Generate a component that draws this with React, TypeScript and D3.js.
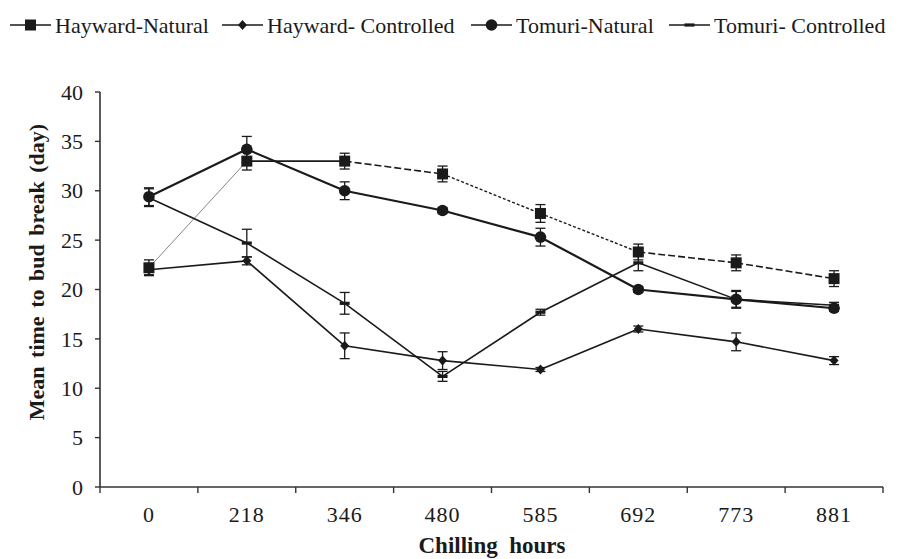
import React from 'react';
import * as d3 from 'd3';

// Chilling hours (categories on the x axis)
const hours = ['0', '218', '346', '480', '585', '692', '773', '881'];

// Mean time to bud break (day) for each series
const haywardNatural = [22.2, 33.0, 33.0, 31.7, 27.7, 23.8, 22.7, 21.1];
const haywardControlled = [22.0, 22.9, 14.3, 12.8, 11.9, 16.0, 14.7, 12.8];
const tomuriNatural = [29.4, 34.2, 30.0, 28.0, 25.3, 20.0, 19.0, 18.1];
const tomuriControlled = [29.3, 24.7, 18.6, 11.2, 17.7, 22.7, 19.0, 18.4];

// Error bar half-widths
const haywardNaturalErr = [0.8, 0.9, 0.8, 0.8, 0.9, 0.8, 0.8, 0.8];
const haywardControlledErr = [0.5, 0.4, 1.3, 0.9, 0.2, 0.3, 0.9, 0.4];
const tomuriNaturalErr = [0.9, 1.3, 0.9, 0.3, 0.9, 0.3, 0.9, 0.3];
const tomuriControlledErr = [0.9, 1.4, 1.1, 0.5, 0.3, 0.8, 0.8, 0.3];

const yTicks = [0, 5, 10, 15, 20, 25, 30, 35, 40];

const FONT = '"Liberation Serif", "Times New Roman", serif';
const INK = '#1a1a1a';

type Series = {
  name: string;
  values: number[];
  err: number[];
  marker: 'square' | 'diamond' | 'circle' | 'dash';
  width: number;
  // per segment style (null = default solid)
  segDash?: (string | null)[];
  segWidth?: number[];
  segColor?: string[];
};

const series: Series[] = [
  {
    name: 'Hayward-Natural',
    values: haywardNatural,
    err: haywardNaturalErr,
    marker: 'square',
    width: 1.6,
    segDash: [null, null, '7,3', '3,2', '3,2', '7,3', '7,3'],
    segWidth: [0.9, 1.8, 1.6, 1.4, 1.4, 1.6, 1.6],
    segColor: ['#777', INK, INK, INK, INK, INK, INK],
  },
  { name: 'Hayward- Controlled', values: haywardControlled, err: haywardControlledErr, marker: 'diamond', width: 1.6 },
  { name: 'Tomuri-Natural', values: tomuriNatural, err: tomuriNaturalErr, marker: 'circle', width: 2.2 },
  { name: 'Tomuri- Controlled', values: tomuriControlled, err: tomuriControlledErr, marker: 'dash', width: 1.6 },
];

const legendX = [10, 222, 471, 669];

const W = 899;
const H = 559;
const x = d3.scaleBand<string>().domain(hours).range([100, 883]).padding(0);
const y = d3.scaleLinear().domain([0, 40]).range([487, 92]);

function Marker({ kind, cx, cy }: { kind: Series['marker']; cx: number; cy: number }) {
  if (kind === 'square') return <rect x={cx - 5.5} y={cy - 5.5} width={11} height={11} fill={INK} />;
  if (kind === 'circle') return <circle cx={cx} cy={cy} r={5.8} fill={INK} />;
  if (kind === 'diamond') {
    const p = d3.path();
    p.moveTo(cx, cy - 5);
    p.lineTo(cx + 4.5, cy);
    p.lineTo(cx, cy + 5);
    p.lineTo(cx - 4.5, cy);
    p.closePath();
    return <path d={p.toString()} fill={INK} />;
  }
  return <rect x={cx - 5} y={cy - 1.6} width={10} height={3.2} fill={INK} />;
}

export default function App() {
  const cx = (i: number) => (x(hours[i]) as number) + x.bandwidth() / 2;
  const line = d3.line<[number, number]>();
  const boundaries = hours.map((h) => x(h) as number).concat([x.range()[1]]);

  return (
    <svg width={W} height={H} style={{ display: 'block', position: 'absolute', left: 0, top: 0, background: '#fff' }}>
      {/* legend */}
      {series.map((s, i) => (
        <g key={s.name} transform={`translate(${legendX[i]},25)`}>
          <line x1={0} x2={41} y1={0} y2={0} stroke={INK} strokeWidth={1.6} />
          <Marker kind={s.marker} cx={20.5} cy={0} />
          <text x={45} y={7.5} fontFamily={FONT} fontSize={22} fill={INK}>
            {s.name}
          </text>
        </g>
      ))}

      {/* axes */}
      <line x1={100} x2={100} y1={y(40)} y2={y(0)} stroke="#333" strokeWidth={1.6} />
      <line x1={100} x2={883} y1={y(0)} y2={y(0)} stroke="#333" strokeWidth={1.6} />
      {yTicks.map((t) => (
        <g key={t}>
          <line x1={95} x2={100} y1={y(t)} y2={y(t)} stroke="#333" strokeWidth={1.4} />
          <text x={83} y={y(t)} dy="0.35em" textAnchor="end" fontFamily={FONT} fontSize={22} fill={INK}>
            {t}
          </text>
        </g>
      ))}
      {boundaries.map((b, i) => (
        <line key={i} x1={b} x2={b} y1={y(0)} y2={y(0) + 6} stroke="#333" strokeWidth={1.4} />
      ))}
      {hours.map((h, i) => (
        <text key={h} x={cx(i)} y={522} textAnchor="middle" fontFamily={FONT} fontSize={22} letterSpacing={1} fill={INK}>
          {h}
        </text>
      ))}
      <text x={492} y={553} textAnchor="middle" fontFamily={FONT} fontSize={23} fontWeight="bold" fill={INK}>
        Chilling&nbsp; hours
      </text>
      <text
        transform={`translate(44,272) rotate(-90)`}
        textAnchor="middle"
        fontFamily={FONT}
        fontSize={22}
        fontWeight="bold"
        fill={INK}
        wordSpacing={3}
      >
        Mean time to bud break (day)
      </text>

      {/* series lines */}
      {series.map((s) => (
        <g key={s.name}>
          {s.values.slice(1).map((v, j) => (
            <path
              key={j}
              d={line([
                [cx(j), y(s.values[j])],
                [cx(j + 1), y(v)],
              ]) as string}
              fill="none"
              stroke={s.segColor ? s.segColor[j] : INK}
              strokeWidth={s.segWidth ? s.segWidth[j] : s.width}
              strokeDasharray={s.segDash && s.segDash[j] ? (s.segDash[j] as string) : undefined}
            />
          ))}
        </g>
      ))}

      {/* error bars and markers */}
      {series.map((s) => (
        <g key={s.name + '-m'}>
          {s.values.map((v, i) => (
            <g key={i}>
              <line x1={cx(i)} x2={cx(i)} y1={y(v - s.err[i])} y2={y(v + s.err[i])} stroke={INK} strokeWidth={1.3} />
              <line x1={cx(i) - 5} x2={cx(i) + 5} y1={y(v - s.err[i])} y2={y(v - s.err[i])} stroke={INK} strokeWidth={1.3} />
              <line x1={cx(i) - 5} x2={cx(i) + 5} y1={y(v + s.err[i])} y2={y(v + s.err[i])} stroke={INK} strokeWidth={1.3} />
              <Marker kind={s.marker} cx={cx(i)} cy={y(v)} />
            </g>
          ))}
        </g>
      ))}
    </svg>
  );
}
